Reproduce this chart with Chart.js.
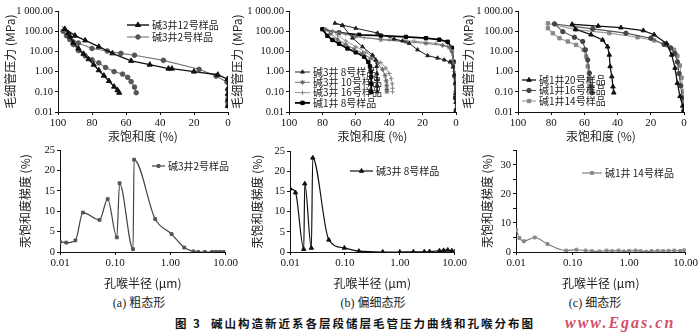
<!DOCTYPE html>
<html>
<head>
<meta charset="utf-8">
<script src="https://cdn.jsdelivr.net/npm/chart.js@4.4.1/dist/chart.umd.min.js"></script>
<style>
  body { margin: 0; width: 700px; height: 333px; background: #fff; position: relative; overflow: hidden; }
  canvas { position: absolute; }
  .txt { position: absolute; white-space: nowrap; color: #222; font-family: "Liberation Serif", "Noto Sans CJK SC", serif; }
  .cap { font-size: 12px; transform: translate(-50%, -50%); }
  #title { left: 175px; top: 323px; transform: translateY(-50%); font-family: "Noto Sans CJK SC", sans-serif; font-weight: bold; font-size: 11.5px; letter-spacing: 2px; color: #111; }
  #mark { left: 565px; top: 323px; transform: translateY(-50%); font-style: italic; font-weight: bold; font-size: 16px; letter-spacing: 2px; color: #d2506a; }
</style>
</head>
<body>
<canvas id="ta" width="236" height="145"></canvas>
<canvas id="tb" width="237" height="145"></canvas>
<canvas id="tc" width="236" height="145"></canvas>
<canvas id="ba" width="225" height="150"></canvas>
<canvas id="bb" width="222" height="150"></canvas>
<canvas id="bc" width="223" height="150"></canvas>
<div class="txt cap" style="left:139px;top:302px">(a) 粗态形</div>
<div class="txt cap" style="left:373px;top:302px">(b) 偏细态形</div>
<div class="txt cap" style="left:595px;top:302px">(c) 细态形</div>
<div class="txt" id="title">图 3&nbsp;&nbsp;碱山构造新近系各层段储层毛管压力曲线和孔喉分布图</div>
<div class="txt" id="mark">www.Egas.cn</div>
<script>
// 毛管压力曲线: 汞饱和度 (%) / 毛细管压力 (MPa)
const satA12 = [0, 0, 0, 0, 0.3, 6, 20, 33, 35, 46, 57, 68, 76, 84, 90, 96, 94, 93, 91, 88, 85, 82, 79, 76, 73, 70, 67, 65, 64];
const presA12 = [0.02, 0.04, 0.08, 0.15, 0.42, 0.7, 1.0, 1.4, 1.4, 2.2, 3.4, 8, 17, 35, 60, 130, 80, 54, 27, 14, 7.6, 4.1, 2.2, 1.17, 0.63, 0.34, 0.18, 0.12, 0.09];
const satA2 = [0, 0, 0, 0, 0, 0.5, 7, 17, 38, 55, 63, 71, 80, 88, 93, 97, 95, 93, 91, 88, 84, 80, 76, 72, 67, 62, 59, 57, 55, 54];
const presA2 = [0.02, 0.03, 0.045, 0.07, 0.12, 0.3, 0.6, 1.3, 3.6, 6.5, 8, 10.5, 14, 26, 50, 100, 60, 38, 22, 11, 6, 3.8, 2.7, 1.6, 1.0, 0.75, 0.52, 0.32, 0.17, 0.09];

const satB8 = [0, 0.2, 0.4, 0.6, 1, 1.8, 3.6, 7, 11, 17, 23, 28, 32, 37, 47, 60, 68, 72.5, 68, 62, 56, 50, 48, 47.5, 47.3, 47.2, 47.2, 47.2];
const presB8 = [0.012, 0.03, 0.08, 0.27, 0.7, 1.7, 3.0, 3.8, 4.7, 6.2, 12, 25, 33, 41, 81, 140, 200, 250, 190, 46, 17, 6.6, 3.7, 1.8, 0.8, 0.4, 0.2, 0.1];
const satB10 = [0, 0.3, 0.8, 1.5, 2.5, 4, 8, 18, 30, 45, 60, 70, 78, 75, 71, 66, 61, 56, 51, 47, 44, 42.5, 41.8, 41.5, 41.4, 41.4];
const presB10 = [0.012, 0.1, 0.6, 2.5, 10, 16, 20, 25, 30, 38, 55, 85, 120, 75, 40, 22, 13, 8, 4.5, 2.5, 1.3, 0.65, 0.35, 0.2, 0.13, 0.1];
const satB16 = [0, 0.5, 1, 1.8, 3, 5, 12, 25, 40, 55, 66, 74, 71, 66, 60, 54, 49, 45, 42, 40, 38.8, 38.2, 38, 38];
const presB16 = [0.012, 0.2, 1, 4, 12, 18, 25, 32, 38, 48, 70, 105, 65, 33, 17, 9, 5, 2.8, 1.5, 0.8, 0.45, 0.25, 0.15, 0.1];
const satB1 = [0, 0.3, 0.8, 1.5, 2.5, 5, 10, 18, 30, 45, 58, 70, 80, 77, 74, 70, 65, 60, 55, 52.5, 51.5, 51, 50.8, 50.7, 50.7];
const presB1 = [0.012, 0.05, 0.6, 3, 15, 30, 38, 45, 52, 60, 66, 85, 125, 59, 37, 24, 14, 9, 5.5, 3, 1.8, 1, 0.55, 0.25, 0.1];

const satC20 = [0, 0.8, 2.4, 4, 5.4, 7.4, 10.5, 18, 24.5, 38, 51.7, 67.4, 65.4, 56, 49, 46, 45, 44.5, 43.5, 42.8, 42.3];
const presC20 = [0.012, 0.02, 0.06, 0.27, 1.5, 6.7, 25, 67, 108, 150, 180, 220, 125, 67, 37, 17, 6.7, 1.8, 0.57, 0.18, 0.09];
const satC16 = [0, 1, 2, 3, 4, 5.5, 8, 12, 20, 35, 55, 78, 73, 66, 61, 59.4, 58, 57, 56, 55.5];
const presC16 = [0.012, 0.05, 0.2, 0.8, 3, 8, 15, 22, 45, 80, 130, 230, 95, 50, 31, 12, 3.8, 0.85, 0.19, 0.09];
const satC14 = [0, 0.5, 1.5, 2.5, 4, 6, 10, 18, 28, 45, 65, 82, 82, 79, 75, 70, 65, 60.5, 59, 58, 57, 56, 55];
const presC14 = [0.012, 0.1, 0.5, 2, 6, 12, 20, 35, 50, 80, 120, 245, 140, 79, 45, 31, 21, 12, 5.6, 1.8, 0.4, 0.13, 0.09];

// 孔喉分布: 孔喉半径 (μm) / 汞饱和度梯度 (%)
const radA = [0.01, 0.013, 0.019, 0.026, 0.052, 0.073, 0.107, 0.12, 0.21, 0.22, 0.53, 1.05, 1.78, 2.6, 3.2, 4.2, 5.7, 6.7, 7.9, 9.2];
const gradA = [2.5, 2.3, 2.85, 9.7, 7.9, 13, 3.6, 16.9, 0.7, 22.7, 8.1, 4.4, 1.1, 0.15, 0, 0, 0, 0, 0, 0];
const radB = [0.01, 0.0126, 0.0178, 0.0186, 0.0245, 0.026, 0.051, 0.098, 0.18, 0.49, 1.0, 1.77, 2.8, 3.5, 5.3, 6.3, 7.5, 8.9, 10];
const gradB = [15.7, 14.7, 0.7, 16.9, 1.0, 23.3, 3.0, 1.0, 0.2, 0, 0, 0.05, 0.05, 0.1, 0.3, 0.4, 0.5, 0.3, 0.1];
const radC = [0.01, 0.0115, 0.0138, 0.0215, 0.036, 0.077, 0.117, 0.17, 0.22, 0.3, 0.4, 0.5, 0.65, 0.8, 1.0, 1.3, 1.6, 2.0, 2.5, 3.2, 4.0, 5.0, 6.3, 8.0, 9.5];
const gradC = [7.7, 4.8, 3.7, 5.0, 2.75, 0.5, 0.8, 0.5, 0.3, 0.2, 0.5, 0.3, 0.5, 0.2, 0.4, 0.5, 0.3, 0.1, 0.3, 0.4, 0.3, 0.4, 0.5, 0.4, 0.6];

// 刻度
const presTicks = [0.01, 0.1, 1, 10, 100, 1000];
const radTicks = [0.01, 0.1, 1, 10];

const SERIF = '"Liberation Serif", serif';
const CJK = '"Noto Sans CJK SC", sans-serif';

function pts(xs, ys) {
    return xs.map((x, i) => ({ x: x, y: ys[i] }));
}

function series(label, xs, ys, color, markColor, style, r, w, smooth) {
    return {
        label: label,
        data: pts(xs, ys),
        showLine: true,
        borderColor: color,
        borderWidth: w,
        pointStyle: style,
        pointRadius: r,
        pointBackgroundColor: markColor,
        pointBorderColor: markColor,
        pointBorderWidth: 1,
        cubicInterpolationMode: smooth ? 'monotone' : 'default',
        tension: 0
    };
}

// 图内图例 (画布坐标)
const inlineLegend = {
    id: 'inlineLegend',
    afterDatasetsDraw(chart, args, opts) {
        const ctx = chart.ctx;
        ctx.save();
        ctx.font = '10px ' + CJK;
        ctx.textBaseline = 'middle';
        chart.data.datasets.forEach((ds, i) => {
            const x = opts.x;
            const y = opts.y + i * opts.dy;
            ctx.strokeStyle = ds.borderColor;
            ctx.lineWidth = ds.borderWidth;
            ctx.beginPath();
            ctx.moveTo(x, y);
            ctx.lineTo(x + opts.len, y);
            ctx.stroke();
            ctx.fillStyle = ds.pointBackgroundColor;
            ctx.strokeStyle = ds.pointBorderColor;
            ctx.lineWidth = 1;
            Chart.helpers.drawPoint(ctx, { pointStyle: ds.pointStyle, radius: ds.pointRadius, rotation: 0, borderWidth: 1 }, x + opts.len / 2, y);
            ctx.fillStyle = '#222';
            ctx.fillText(ds.label, x + opts.len + 3, y);
        });
        ctx.restore();
    }
};

function makeChart(id, box, plot, xOpt, yOpt, xTitle, yTitle, datasets, legend) {
    const canvas = document.getElementById(id);
    canvas.style.left = box.left + 'px';
    canvas.style.top = box.top + 'px';
    const leg = { x: legend.x - box.left, y: legend.y - box.top, dy: legend.dy, len: legend.len };
    const axisBase = {
        border: { display: true, color: '#111', width: 1 },
        grid: { display: true, drawOnChartArea: false, drawTicks: true, tickLength: 3, color: '#111' }
    };
    return new Chart(canvas, {
        type: 'scatter',
        data: { datasets: datasets },
        options: {
            responsive: false,
            animation: false,
            layout: { padding: { left: 0, top: plot.t - box.top, right: box.left + box.w - plot.r, bottom: 0 } },
            plugins: { legend: { display: false }, tooltip: { enabled: false }, inlineLegend: leg },
            scales: {
                x: Object.assign({}, axisBase, xOpt, {
                    ticks: Object.assign({ color: '#111', padding: 2, maxRotation: 0, autoSkip: false, font: { family: SERIF, size: 11 } }, xOpt.ticks),
                    title: { display: true, text: xTitle, color: '#222', font: { family: CJK, size: 12 }, padding: { top: 0, bottom: 1 } },
                    afterFit: s => { s.height = box.top + box.h - plot.b; }
                }),
                y: Object.assign({}, axisBase, yOpt, {
                    ticks: Object.assign({ color: '#111', padding: 2, autoSkip: false, font: { family: SERIF, size: 10.5 } }, yOpt.ticks),
                    title: { display: true, text: yTitle, color: '#222', font: { family: CJK, size: 12 }, padding: { top: 3, bottom: 0 } },
                    afterFit: s => { s.width = plot.l - box.left; }
                })
            }
        },
        plugins: [inlineLegend]
    });
}

const satAxis = { type: 'linear', min: 0, max: 100, reverse: true, ticks: { stepSize: 20 } };
const presAxis = {
    type: 'logarithmic', min: 0.01, max: 1000,
    afterBuildTicks: s => { s.ticks = presTicks.map(v => ({ value: v })); },
    ticks: { callback: v => v === 1000 ? '1 000.00' : Number(v).toFixed(2) }
};
const radAxis = {
    type: 'logarithmic', min: 0.01, max: 10,
    afterBuildTicks: s => { s.ticks = radTicks.map(v => ({ value: v })); },
    ticks: { callback: v => Number(v).toFixed(2) }
};

const xSat = '汞饱和度 (%)';
const yPres = '毛细管压力 (MPa)';
const xRad = '孔喉半径 (μm)';
const yGrad = '汞饱和度梯度 (%)';

makeChart('ta', { left: 0, top: 0, w: 236, h: 145 }, { l: 58, t: 11, r: 228, b: 112 }, satAxis, presAxis, xSat, yPres, [
    series('碱3井12号样品', satA12, presA12, '#111', '#111', 'triangle', 3, 1.4),
    series('碱3井2号样品', satA2, presA2, '#777', '#555', 'circle', 2.3, 1.1)
], { x: 127, y: 25, dy: 12, len: 22 });

makeChart('tb', { left: 227, top: 0, w: 237, h: 145 }, { l: 289, t: 11, r: 456, b: 112 }, satAxis, presAxis, xSat, yPres, [
    series('碱3井 8号样品', satB8, presB8, '#222', '#222', 'triangle', 2.2, 1),
    series('碱3井 10号样品', satB10, presB10, '#777', '#666', 'star', 2.4, 1),
    series('碱3井 16号样品', satB16, presB16, '#999', '#888', 'cross', 2.2, 1),
    series('碱1井 8号样品', satB1, presB1, '#000', '#000', 'rect', 2.4, 1.8)
], { x: 295, y: 72, dy: 10.3, len: 15 });

makeChart('tc', { left: 458, top: 0, w: 236, h: 145 }, { l: 518, t: 11, r: 684, b: 112 }, satAxis, presAxis, xSat, yPres, [
    series('碱1井20号样品', satC20, presC20, '#111', '#111', 'triangle', 2.6, 1.3),
    series('碱1井16号样品', satC16, presC16, '#555', '#444', 'circle', 2.2, 1.1),
    series('碱1井14号样品', satC14, presC14, '#999', '#888', 'rect', 2.4, 1.1)
], { x: 522, y: 80, dy: 10.5, len: 14 });

makeChart('ba', { left: 15, top: 142, w: 225, h: 150 }, { l: 60, t: 150, r: 230, b: 252 }, radAxis,
    { type: 'linear', min: 0, max: 25, ticks: { stepSize: 5 } }, xRad, yGrad, [
    series('碱3井2号样品', radA, gradA, '#444', '#555', 'rect', 2, 1.2, true)
], { x: 152, y: 166, dy: 0, len: 13 });

makeChart('bb', { left: 247, top: 142, w: 222, h: 150 }, { l: 290, t: 151, r: 459, b: 252 }, radAxis,
    { type: 'linear', min: 0, max: 25, ticks: { stepSize: 5 } }, xRad, yGrad, [
    series('碱3井 8号样品', radB, gradB, '#111', '#111', 'triangle', 2.5, 1.2, true)
], { x: 350, y: 171, dy: 0, len: 23 });

makeChart('bc', { left: 477, top: 142, w: 223, h: 150 }, { l: 516, t: 150, r: 687, b: 252 }, radAxis,
    { type: 'linear', min: 0, max: 35, ticks: { stepSize: 5, callback: v => v % 10 === 0 ? v : '' } }, xRad, yGrad, [
    series('碱1井 14号样品', radC, gradC, '#777', '#888', 'rect', 2, 1.1, true)
], { x: 582, y: 173, dy: 0, len: 20 });
</script>
</body>
</html>
